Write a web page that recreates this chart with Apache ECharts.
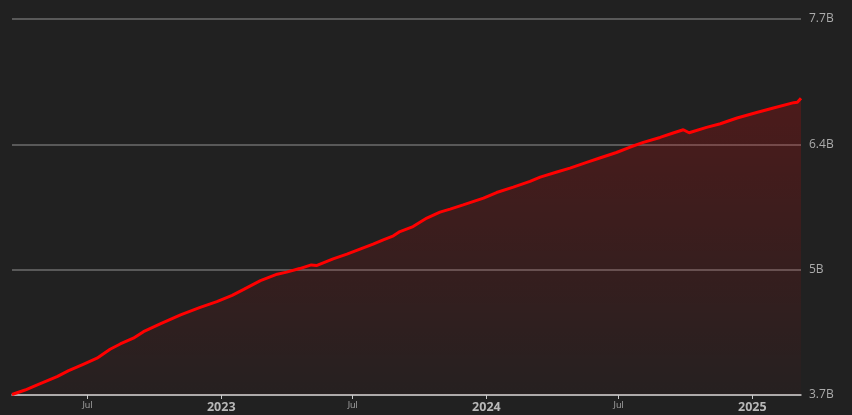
<!DOCTYPE html>
<html>
<head>
<meta charset="utf-8">
<script src="https://cdn.jsdelivr.net/npm/echarts@6/dist/echarts.min.js"></script>
<style>
  html, body { margin: 0; padding: 0; background: #212121; }
  #chart { width: 852px; height: 415px; }
</style>
</head>
<body>
<div id="chart"></div>
<script>
// traced points of the cumulative total (billions)
const dates = [
  "2022-03-19", "2022-04-06", "2022-04-22", "2022-05-20", "2022-06-05", "2022-06-25",
  "2022-07-14", "2022-08-01", "2022-08-15", "2022-09-02", "2022-09-16", "2022-10-09",
  "2022-11-06", "2022-12-03", "2022-12-26", "2023-01-16", "2023-02-01", "2023-02-24",
  "2023-03-19", "2023-04-01", "2023-04-19", "2023-05-05", "2023-05-12", "2023-06-04",
  "2023-06-23", "2023-07-11", "2023-07-29", "2023-08-12", "2023-08-26", "2023-09-04",
  "2023-09-22", "2023-10-11", "2023-10-29", "2023-11-12", "2023-11-30", "2023-12-28",
  "2024-01-15", "2024-02-07", "2024-03-01", "2024-03-15", "2024-04-07", "2024-04-25",
  "2024-05-18", "2024-06-05", "2024-06-28", "2024-07-17", "2024-08-04", "2024-08-27",
  "2024-09-14", "2024-09-28", "2024-10-06", "2024-10-30", "2024-11-18", "2024-12-11",
  "2025-01-07", "2025-01-30", "2025-02-27", "2025-03-04", "2025-03-09"
];
const totals = [
  3.705, 3.753, 3.806, 3.895, 3.959, 4.027,
  4.091, 4.187, 4.243, 4.304, 4.374, 4.456,
  4.552, 4.632, 4.694, 4.760, 4.824, 4.917,
  4.985, 5.007, 5.045, 5.084, 5.077, 5.148,
  5.198, 5.252, 5.305, 5.351, 5.393, 5.439,
  5.492, 5.582, 5.646, 5.678, 5.723, 5.795,
  5.854, 5.912, 5.972, 6.018, 6.072, 6.114,
  6.174, 6.221, 6.280, 6.338, 6.387, 6.440,
  6.487, 6.522, 6.490, 6.547, 6.586, 6.647,
  6.706, 6.753, 6.810, 6.815, 6.858
];
const yMin = 3.7e9;
const yMax = 7.7e9;
const ySteps = 3;

const chart = echarts.init(document.getElementById("chart"));
const seriesData = dates.map((d, i) => [d, totals[i] * 1e9]);
const DAY = 24 * 3600 * 1000;

chart.setOption({
  animation: false,
  backgroundColor: "#212121",
  grid: { left: 12, right: 51, top: 19, bottom: 20 },
  xAxis: {
    type: "time",
    min: "2022-03-19",
    max: "2025-03-09",
    minInterval: 175 * DAY,
    maxInterval: 190 * DAY,
    axisLine: { lineStyle: { color: "#c8c8c8", width: 1.5 } },
    axisTick: { show: true, length: 4, lineStyle: { color: "#c8c8c8" } },
    splitLine: { show: false },
    axisLabel: {
      margin: 6,
      showMinLabel: false,
      showMaxLabel: false,
      formatter: { year: "{yr|{yyyy}}", month: "{mo|{MMM}}", day: "", hour: "", minute: "", second: "", millisecond: "" },
      rich: {
        yr: { color: "#b8b8b8", fontSize: 12.5, fontWeight: "bold", fontFamily: "Open Sans" },
        mo: { color: "#a8a8a8", fontSize: 9, fontFamily: "Open Sans" }
      }
    }
  },
  yAxis: {
    type: "value",
    position: "right",
    min: yMin,
    max: yMax,
    interval: (yMax - yMin) / ySteps,
    axisLine: { show: false },
    axisTick: { show: false },
    splitLine: { lineStyle: { color: "#595959", width: 2 } },
    axisLabel: {
      margin: 8,
      color: "#ababab",
      fontSize: 12,
      fontFamily: "Open Sans",
      formatter: v => parseFloat((v / 1e9).toPrecision(2)) + "B"
    }
  },
  series: [{
    type: "line",
    data: seriesData,
    showSymbol: false,
    smooth: false,
    lineStyle: { color: "#ff0000", width: 3 },
    itemStyle: { color: "#ff0000" },
    areaStyle: {
      color: new echarts.graphic.LinearGradient(0, 0, 0, 1, [
        { offset: 0, color: "rgba(255,0,0,0.28)" },
        { offset: 1, color: "rgba(255,0,0,0.03)" }
      ])
    }
  }]
});
</script>
</body>
</html>
